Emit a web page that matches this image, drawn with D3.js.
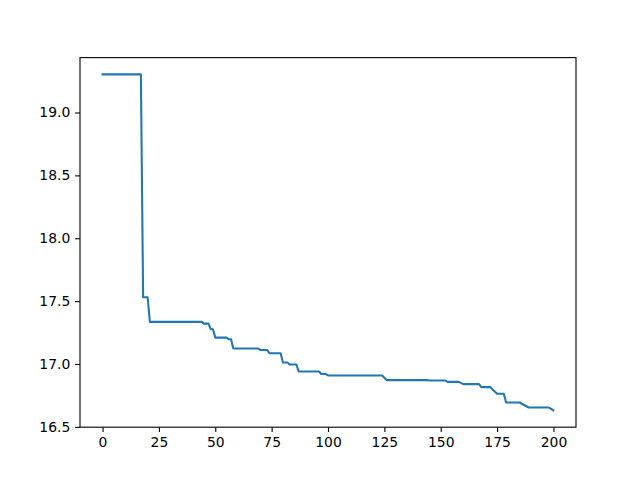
<!DOCTYPE html>
<html>
<head>
<meta charset="utf-8">
<script src="https://cdn.jsdelivr.net/npm/d3@7"></script>
<style>
  html, body { margin: 0; padding: 0; background: #fff; }
  svg { display: block; }
  .tick text { font-family: "DejaVu Sans", sans-serif; font-size: 13.9px; fill: #000; }
</style>
</head>
<body>
<svg id="chart" width="640" height="480"></svg>
<script>
// Iteration (x) and value (y) at each vertex of the line
const iterations = [0, 17, 18, 20, 21, 44, 45, 47, 48, 49, 50, 55, 56, 57, 58, 69, 70, 73, 74, 79, 80, 82, 83, 86, 87, 96, 97, 99, 100, 124, 126, 144, 145, 152, 153, 158, 160, 167, 168, 172, 175, 178, 179, 185, 189, 198, 200];
const values = [19.303, 19.303, 17.531, 17.531, 17.335, 17.335, 17.321, 17.321, 17.277, 17.277, 17.21, 17.21, 17.197, 17.197, 17.123, 17.123, 17.112, 17.112, 17.086, 17.086, 17.012, 17.012, 16.996, 16.996, 16.94, 16.94, 16.92, 16.92, 16.909, 16.909, 16.872, 16.872, 16.869, 16.869, 16.858, 16.858, 16.84, 16.84, 16.816, 16.816, 16.763, 16.763, 16.694, 16.694, 16.654, 16.654, 16.631];
const xTicks = [0, 25, 50, 75, 100, 125, 150, 175, 200];
const yTicks = [16.5, 17.0, 17.5, 18.0, 18.5, 19.0];

const svg = d3.select("#chart");
const mLeft = 80, mRight = 576, mTop = 57.6, mBottom = 427.2;

const xMin = d3.min(iterations), xMax = d3.max(iterations);
const xPad = (xMax - xMin) * 0.05;
const yMin = d3.min(values), yMax = d3.max(values);
const yPad = (yMax - yMin) * 0.05;

const x = d3.scaleLinear().domain([xMin - xPad, xMax + xPad]).range([mLeft, mRight]);
const y = d3.scaleLinear().domain([yMin - yPad, yMax + yPad]).range([mBottom, mTop]);

const pts = iterations.map((d, i) => [d, values[i]]);

svg.append("path")
  .datum(pts)
  .attr("fill", "none")
  .attr("stroke", "#1f77b4")
  .attr("stroke-width", 2.08)
  .attr("stroke-linejoin", "round")
  .attr("stroke-linecap", "square")
  .attr("d", d3.line().x(d => x(d[0])).y(d => y(d[1])));

const xAxis = svg.append("g")
  .attr("transform", `translate(0,${mBottom})`)
  .call(d3.axisBottom(x).tickValues(xTicks).tickFormat(d3.format("d")).tickSize(4.86).tickPadding(4.86));
const yAxis = svg.append("g")
  .attr("transform", `translate(${mLeft},0)`)
  .call(d3.axisLeft(y).tickValues(yTicks).tickFormat(d3.format(".1f")).tickSize(4.86).tickPadding(4.86));

[xAxis, yAxis].forEach(g => {
  g.select(".domain").remove();
  g.selectAll(".tick line").attr("stroke", "#000").attr("stroke-width", 1.1);
});
xAxis.selectAll(".tick text").attr("dy", "0.71em");

// frame
svg.append("rect")
  .attr("x", mLeft).attr("y", mTop)
  .attr("width", mRight - mLeft).attr("height", mBottom - mTop)
  .attr("fill", "none").attr("stroke", "#000").attr("stroke-width", 1.1);
</script>
</body>
</html>
